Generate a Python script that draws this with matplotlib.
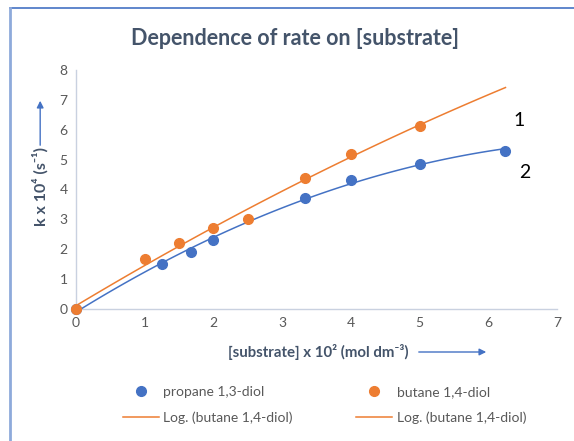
import numpy as np
import matplotlib
matplotlib.use("Agg")
import matplotlib.pyplot as plt
from matplotlib.lines import Line2D

plt.rcParams["font.family"] = ["Lato", "DejaVu Sans"]

# ── Data ──────────────────────────────────────────────────────────────────────
propane_x = [0, 1.25, 1.67, 2.0, 3.33, 4.0, 5.0, 6.25]
propane_k = [0, 1.50, 1.92, 2.30, 3.73, 4.33, 4.85, 5.30]

butane_x = [0, 1.0, 1.5, 2.0, 2.5, 3.33, 4.0, 5.0]
butane_k = [0, 1.68, 2.20, 2.72, 3.00, 4.40, 5.20, 6.13]

x_ticks = [0, 1, 2, 3, 4, 5, 6, 7]
y_ticks = [0, 1, 2, 3, 4, 5, 6, 7, 8]

BLUE = "#4472c4"
ORANGE = "#ed7d31"
GRAY = "#595959"
TITLE_C = "#44546a"

# ── Figure ────────────────────────────────────────────────────────────────────
fig = plt.figure(figsize=(5.74, 4.41), dpi=100)
ax = fig.add_axes([0.1324, 0.2993, 0.838, 0.542])

# trend lines (quadratic fit, like the spreadsheet trendline)
xs = np.linspace(0, max(propane_x), 100)
p_fit = np.polyfit(propane_x, propane_k, 2)
b_fit = np.polyfit(butane_x, butane_k, 2)
ax.plot(xs, np.polyval(p_fit, xs), color=BLUE, lw=1.1, zorder=2, clip_on=False)
ax.plot(xs, np.polyval(b_fit, xs), color=ORANGE, lw=1.1, zorder=2, clip_on=False)

ax.plot(propane_x, propane_k, "o", color=BLUE, ms=7, zorder=3, clip_on=False)
ax.plot(butane_x, butane_k, "o", color=ORANGE, ms=7, zorder=4, clip_on=False)

ax.set_xlim(0, 7)
ax.set_ylim(0, 8)
ax.set_xticks(x_ticks)
ax.set_yticks(y_ticks)
ax.tick_params(length=0, colors=GRAY, labelsize=10, pad=6)
for s in ["top", "right"]:
    ax.spines[s].set_visible(False)
for s in ["left", "bottom"]:
    ax.spines[s].set_color("#c9d1e0")
    ax.spines[s].set_linewidth(1)
    ax.spines[s].set_zorder(1)

# curve labels
ax.text(6.36, 6.32, "1", fontsize=14, color="black", va="center")
ax.text(6.45, 4.58, "2", fontsize=14, color="black", va="center")

# ── Titles and axis labels (with arrows) ──────────────────────────────────────
fig.text(0.514, 0.913, "Dependence of rate on [substrate]", ha="center",
         va="center", fontsize=15.5, fontweight="bold", color=TITLE_C)

fig.text(0.070, 1 - 187 / 441, "k x 10⁴ (s⁻¹)", rotation=90, ha="center",
         va="center", fontsize=11.5, fontweight="bold", color=TITLE_C)
fig.add_artist(matplotlib.patches.FancyArrowPatch(
    (0.070, 1 - 148 / 441), (0.070, 1 - 98 / 441), transform=fig.transFigure,
    arrowstyle="-|>", mutation_scale=10, color=BLUE, lw=1))

fig.text(318 / 574, 1 - 352 / 441, "[substrate] x 10² (mol dm⁻³)", ha="center",
         va="center", fontsize=10.8, fontweight="bold", color=TITLE_C)
fig.add_artist(matplotlib.patches.FancyArrowPatch(
    (416 / 574, 1 - 352 / 441), (489 / 574, 1 - 352 / 441),
    transform=fig.transFigure, arrowstyle="-|>", mutation_scale=10,
    color=BLUE, lw=1))

# ── Legend ────────────────────────────────────────────────────────────────────
handles = [
    Line2D([], [], ls="", marker="o", ms=7, color=BLUE),
    Line2D([], [], color=ORANGE, lw=1.1),
    Line2D([], [], ls="", marker="o", ms=7, color=ORANGE),
    Line2D([], [], color=ORANGE, lw=1.1),
]
labels = ["propane 1,3-diol", "Log. (butane 1,4-diol)",
          "butane 1,4-diol", "Log. (butane 1,4-diol)"]
fig.legend(handles, labels, ncol=2, loc="center", frameon=False,
           bbox_to_anchor=(0.565, 1 - 405 / 441), fontsize=10,
           labelcolor=GRAY, columnspacing=4.6, handlelength=2.6,
           handletextpad=0.3, labelspacing=0.95)

# frame lines of the chart area
fig.add_artist(Line2D([10 / 574, 1], [1 - 8 / 441, 1 - 8 / 441],
                      transform=fig.transFigure, color=BLUE, lw=1.2))
fig.add_artist(Line2D([10 / 574, 10 / 574], [0, 1 - 8 / 441],
                      transform=fig.transFigure, color="#8eaadb", lw=2))

fig.savefig("out.png", dpi=100)
